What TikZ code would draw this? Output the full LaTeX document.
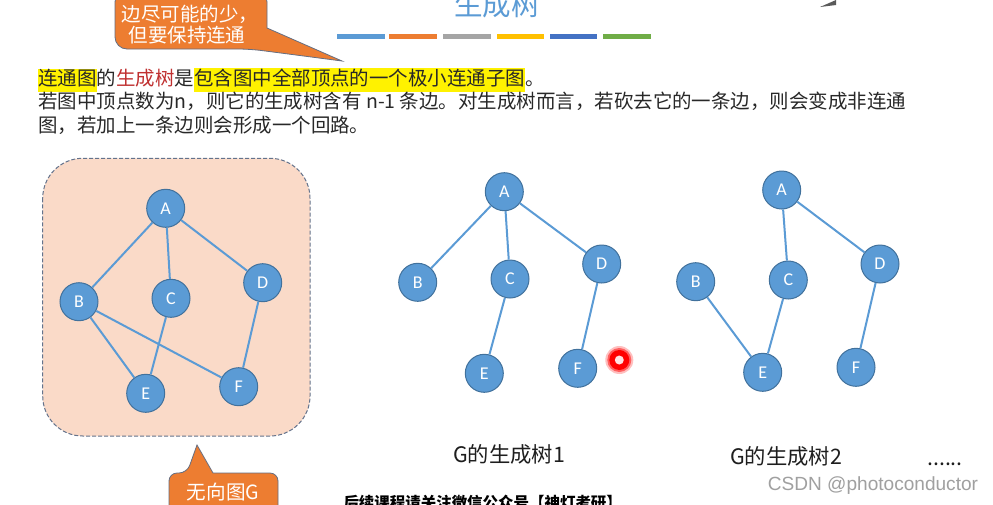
\documentclass[tikz,border=0pt]{standalone}
\usepackage{fontspec}
\setmainfont{Noto Sans CJK SC}
\newfontfamily\latinfont{Carlito}
\newfontfamily\markfont{Liberation Sans}
\usetikzlibrary{positioning}

\newcommand{\hilite}[1]{{\setlength{\fboxsep}{0pt}\colorbox{yellow}{\strut #1}}}

\tikzset{every picture/.style={line width=0.75pt}}
\tikzset{
  vertex/.style={circle, draw={rgb,255:red,65;green,113;blue,156}, fill={rgb,255:red,91;green,155;blue,213},
    minimum size=28.5pt, inner sep=0pt, text=white, font=\latinfont\fontsize{13.5}{13.5}\selectfont},
  edge/.style={draw={rgb,255:red,91;green,155;blue,213}, line width=1.5pt},
  callout/.style={fill={rgb,255:red,237;green,125;blue,49}, draw={rgb,255:red,100;green,110;blue,130}, line width=0.6pt},
  bodytext/.style={anchor=base west, inner sep=0pt, text={rgb,255:red,40;green,40;blue,40}, font=\fontsize{14.6}{17.5}\selectfont},
  caption/.style={anchor=base, inner sep=0pt, text={rgb,255:red,30;green,30;blue,30}, font=\fontsize{16}{16}\selectfont},
  bar/.style={line width=3.75pt},
}

\begin{document}
\begin{tikzpicture}[x=0.75pt,y=0.75pt,yscale=-1,xscale=1]
\fill[white] (0,0) rectangle (993,504);
\useasboundingbox (0,0) rectangle (993,504);

% Title
\node[anchor=base, inner sep=0pt, text={rgb,255:red,91;green,155;blue,213}, font=\fontsize{21.4}{21.4}\selectfont] (title) at (497,15) {生成树};
% Colour bars
\draw[bar, color={rgb,255:red,91;green,155;blue,213}] (337,36) -- (385,36);
\draw[bar, color={rgb,255:red,237;green,125;blue,49}] (389,36) -- (437,36);
\draw[bar, color={rgb,255:red,165;green,165;blue,165}] (443,36) -- (491,36);
\draw[bar, color={rgb,255:red,255;green,192;blue,0}] (497,36) -- (544,36);
\draw[bar, color={rgb,255:red,68;green,114;blue,196}] (550,36) -- (597,36);
\draw[bar, color={rgb,255:red,112;green,173;blue,71}] (603,36) -- (651,36);
% Logo corner
\fill[color={rgb,255:red,90;green,90;blue,90}] (820,7) -- (836,0) -- (836,5) -- cycle;

% Callout top
\draw[callout] (115,-10) [rounded corners=9] -- (115,49) -- (250,49) [sharp corners] -- (342,61) -- (267,28) [rounded corners=9] -- (267,-10) -- cycle;
\node[anchor=base, inner sep=0pt, text=white, font=\fontsize{14.6}{14.6}\selectfont] (tip1) at (190,21.5) {边尽可能的少，};
\node[anchor=base, inner sep=0pt, text=white, font=\fontsize{14.6}{14.6}\selectfont] (tip2) at (187,42.5) {但要保持连通};

% Text lines
\node[bodytext] (line1) at (38,85) {\hilite{连通图}的\textcolor[RGB]{192,48,48}{生成树}是\hilite{包含图中全部顶点的一个极小连通子图}。};
\node[bodytext] (line2) at (38,108.5) {若图中顶点数为n，则它的生成树含有 n-1 条边。对生成树而言，若砍去它的一条边，则会变成非连通};
\node[bodytext] (line3) at (38,132) {图，若加上一条边则会形成一个回路。};

%Shape: Rounded box
\draw[fill={rgb,255:red,250;green,218;blue,200}, draw={rgb,255:red,100;green,115;blue,140}, dash pattern={on 3pt off 1.5pt}, rounded corners=30] (42.7,158.3) rectangle (310,436);

% Graph G
\node[vertex] (gA) at (165.7,208.3) {A};
\node[vertex] (gB) at (79,301.7) {B};
\node[vertex] (gC) at (171,298.3) {C};
\node[vertex] (gD) at (262.7,282.7) {D};
\node[vertex] (gE) at (145.7,393.3) {E};
\node[vertex] (gF) at (238.7,386.7) {F};
\draw[edge] (gA) -- (gB);
\draw[edge] (gA) -- (gC);
\draw[edge] (gA) -- (gD);
\draw[edge] (gB) -- (gE);
\draw[edge] (gB) -- (gF);
\draw[edge] (gC) -- (gE);
\draw[edge] (gD) -- (gF);

% Callout bottom
\draw[callout] (169,520) [rounded corners=6] -- (169,473) -- (187,473) [sharp corners] -- (197,445) -- (213,473) [rounded corners=6] -- (278,473) -- (278,520);
\node[anchor=base, inner sep=0pt, text=white, font=\fontsize{14.7}{14.7}\selectfont] (gname) at (223,499) {无向图G};

% Spanning tree 1
\node[vertex] (tA) at (504.3,191.7) {A};
\node[vertex] (tB) at (417.7,282.3) {B};
\node[vertex] (tC) at (510,279) {C};
\node[vertex] (tD) at (601.7,264) {D};
\node[vertex] (tE) at (484.3,373.3) {E};
\node[vertex] (tF) at (577.7,368.3) {F};
\draw[edge] (tA) -- (tB);
\draw[edge] (tA) -- (tC);
\draw[edge] (tA) -- (tD);
\draw[edge] (tC) -- (tE);
\draw[edge] (tD) -- (tF);

% Pointer dot
\fill[red, opacity=0.25] (619.3,360) circle (14);
\fill[red, opacity=0.5] (619.3,360) circle (12);
\fill[red] (619.3,360) circle (10);
\fill[color={rgb,255:red,255;green,225;blue,225}] (619.3,360) circle (4.5);

% Spanning tree 2
\node[vertex] (sA) at (781.7,190) {A};
\node[vertex] (sB) at (695.7,281.7) {B};
\node[vertex] (sC) at (788.3,280) {C};
\node[vertex] (sD) at (880,264) {D};
\node[vertex] (sE) at (762.7,372.3) {E};
\node[vertex] (sF) at (856,367.3) {F};
\draw[edge] (sA) -- (sC);
\draw[edge] (sA) -- (sD);
\draw[edge] (sB) -- (sE);
\draw[edge] (sC) -- (sE);
\draw[edge] (sD) -- (sF);

% Captions
\node[caption] (cap1) at (509,462) {G的生成树1};
\node[caption] (cap2) at (786,464) {G的生成树2};
\node[caption] (dots) at (945,465) {......};
\node[anchor=base, inner sep=0pt, text={rgb,255:red,160;green,160;blue,160}, font=\markfont\fontsize{14.3}{14.3}\selectfont] (mark) at (873,490) {CSDN @photoconductor};
\node[anchor=north west, inner sep=0pt, font=\bfseries\fontsize{11.6}{11.6}\selectfont] (follow) at (343,494.5) {后续课程请关注微信公众号【神灯考研】};

\end{tikzpicture}
\end{document}
